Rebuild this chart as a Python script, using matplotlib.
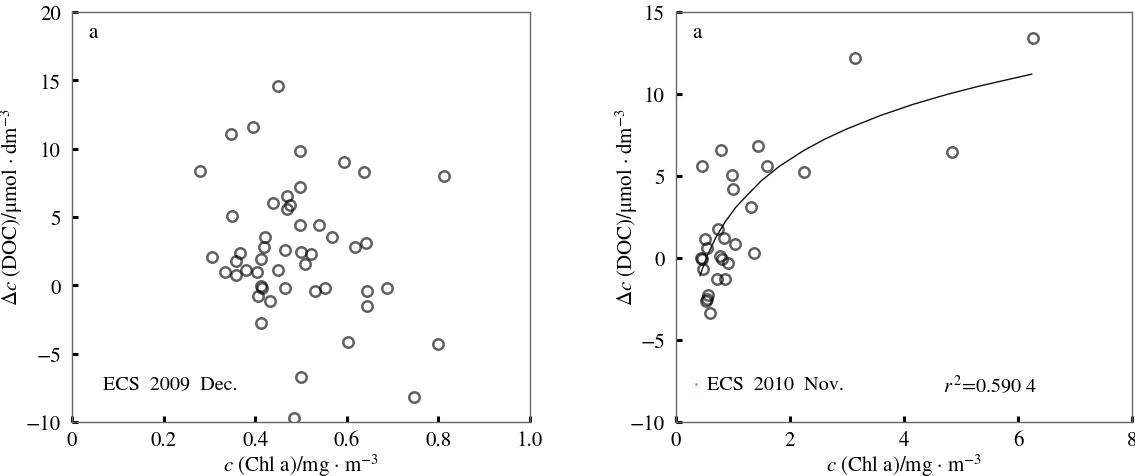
import matplotlib
matplotlib.use('Agg')

matplotlib.rcParams['mathtext.fontset'] = 'stix'
matplotlib.rcParams['font.family'] = 'STIXGeneral'
matplotlib.rcParams['font.size'] = 15
matplotlib.rcParams['axes.unicode_minus'] = True

import matplotlib.pyplot as plt

# left panel: ECS 2009 Dec.
chl_2009 = [0.450, 0.396, 0.347, 0.498, 0.280, 0.594, 0.638, 0.813, 0.498, 0.469,
            0.439, 0.477, 0.469, 0.350, 0.498, 0.540, 0.568, 0.642, 0.617, 0.421,
            0.419, 0.465, 0.501, 0.522, 0.509, 0.306, 0.366, 0.359, 0.413, 0.450,
            0.380, 0.335, 0.357, 0.404, 0.412, 0.415, 0.407, 0.432, 0.465, 0.531,
            0.552, 0.645, 0.688, 0.644, 0.412, 0.602, 0.800, 0.501, 0.746, 0.485]
doc_2009 = [14.62, 11.56, 11.04, 9.85, 8.40, 9.06, 8.26, 8.01, 7.18, 6.52,
            6.00, 5.91, 5.56, 5.07, 4.41, 4.41, 3.51, 3.09, 2.82, 3.51,
            2.82, 2.58, 2.43, 2.31, 1.58, 2.04, 2.36, 1.80, 1.94, 1.09,
            1.09, 0.99, 0.72, 0.96, -0.06, -0.16, -0.75, -1.16, -0.21, -0.38,
            -0.21, -0.38, -0.21, -1.51, -2.73, -4.17, -4.32, -6.69, -8.16, -9.73]

# right panel: ECS 2010 Nov.
chl_2010 = [6.26, 3.14, 4.85, 1.43, 0.79, 0.45, 1.60, 2.24, 0.98, 1.00,
            1.32, 0.74, 0.51, 0.85, 1.03, 0.55, 1.37, 0.43, 0.45, 0.78,
            0.80, 0.92, 0.48, 0.72, 0.86, 0.57, 0.54, 0.52, 0.60]
doc_2010 = [13.39, 12.19, 6.47, 6.81, 6.57, 5.60, 5.63, 5.26, 5.06, 4.19,
            3.10, 1.79, 1.13, 1.23, 0.83, 0.63, 0.28, 0.02, -0.08, 0.12,
            -0.08, -0.28, -0.69, -1.25, -1.25, -2.24, -2.50, -2.65, -3.37]

# fitted curve
fit_x = [0.42, 0.55, 0.70, 0.86, 1.05, 1.24, 1.50, 1.82, 2.24, 2.60,
         2.99, 3.58, 4.16, 4.75, 5.33, 6.24]
fit_y = [-1.07, 0.16, 1.26, 2.19, 3.10, 3.80, 4.72, 5.61, 6.55, 7.23,
         7.86, 8.68, 9.37, 9.97, 10.49, 11.21]

xticks_l = [0, 0.2, 0.4, 0.6, 0.8, 1.0]
xticklabels_l = ['0', '0.2', '0.4', '0.6', '0.8', '1.0']
yticks_l = [-10, -5, 0, 5, 10, 15, 20]
xticks_r = [0, 2, 4, 6, 8]
yticks_r = [-10, -5, 0, 5, 10, 15]

ylabel = r'$\Delta c$ (DOC)/μmol · dm$^{-3}$'
xlabel = r'$c$ (Chl a)/mg · m$^{-3}$'

fig = plt.figure(figsize=(11.35, 4.77), dpi=100)
ax1 = fig.add_axes([72 / 1135, 1 - 423 / 477, 458 / 1135, 410 / 477])
ax2 = fig.add_axes([676 / 1135, 1 - 423 / 477, 456 / 1135, 410 / 477])


def style(ax):
    for s in ax.spines.values():
        s.set_color('#666666')
        s.set_linewidth(1.0)
    ax.tick_params(direction='in', length=4, width=2.2, color='black',
                   labelsize=15, top=False, right=False)
    ax.tick_params(axis='y', pad=8)
    ax.tick_params(axis='x', pad=6)


mk = dict(linestyle='none', marker='o', markersize=7.5, markerfacecolor='none',
          markeredgecolor=(0, 0, 0, 0.62), markeredgewidth=1.8)

ax1.plot(chl_2009, doc_2009, **mk)
ax1.set_xlim(0, 1.0)
ax1.set_ylim(-10, 20)
ax1.set_xticks(xticks_l)
ax1.set_xticklabels(xticklabels_l)
ax1.set_yticks(yticks_l)
style(ax1)
ax1.set_ylabel(ylabel, fontsize=15)
ax1.yaxis.set_label_coords(-0.103, 0.526)
ax1.set_xlabel(xlabel, fontsize=15, labelpad=1)
ax1.text(0.036, 0.95, 'a', transform=ax1.transAxes, fontsize=15, va='center')
ax1.text(0.067, 0.092, 'ECS  2009  Dec.', transform=ax1.transAxes,
         fontsize=14.5, va='center')

ax2.plot(fit_x, fit_y, color='#111111', linewidth=1.0)
ax2.plot(chl_2010, doc_2010, **mk)
ax2.set_xlim(0, 8)
ax2.set_ylim(-10, 15)
ax2.set_xticks(xticks_r)
ax2.set_yticks(yticks_r)
style(ax2)
ax2.set_ylabel(ylabel, fontsize=15)
ax2.yaxis.set_label_coords(-0.079, 0.526)
ax2.set_xlabel(xlabel, fontsize=15, labelpad=1)
ax2.text(0.036, 0.95, 'a', transform=ax2.transAxes, fontsize=15, va='center')
ax2.plot([0.043], [0.092], transform=ax2.transAxes, marker='.', markersize=2,
         color='#e0904a', linestyle='none')
ax2.text(0.069, 0.092, 'ECS  2010  Nov.', transform=ax2.transAxes,
         fontsize=14.5, va='center')
ax2.text(0.585, 0.092, r'$r^{\,2}$=0.590 4', transform=ax2.transAxes,
         fontsize=14.5, va='center')

fig.savefig('out.png', dpi=100)
